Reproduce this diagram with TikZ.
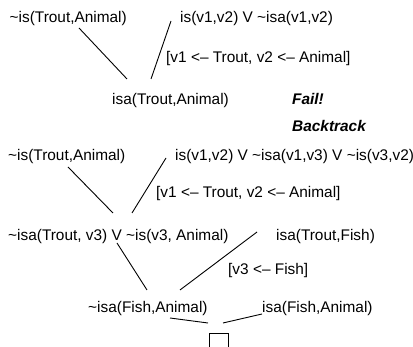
\documentclass[tikz,border=0pt]{standalone}
\usepackage{fontspec}
\setmainfont{Liberation Sans}
\begin{document}
\begin{tikzpicture}[x=1pt,y=1pt,
  lbl/.style={inner sep=0pt,anchor=base west,font=\fontsize{15.4}{18}\selectfont},
  note/.style={lbl,font=\fontsize{15.4}{18}\selectfont\bfseries\itshape},
  edge/.style={line width=0.9pt,black}]
\useasboundingbox (0,0) rectangle (413,-347);
\clip (0,0) rectangle (413,-347);
% row 1
\node[lbl] (a1) at (9.5,-23) {\textasciitilde is(Trout,Animal)};
\node[lbl] (a2) at (180,-23) {is(v1,v2) V \textasciitilde isa(v1,v2)};
\node[lbl] (s1) at (166,-63) {[v1 <– Trout, v2 <– Animal]};
\node[lbl] (r1) at (112,-105) {isa(Trout,Animal)};
\node[note] (f1) at (292,-105) {Fail!};
\node[note] (f2) at (292,-132) {Backtrack};
% second derivation
\node[lbl] (b1) at (8,-161) {\textasciitilde is(Trout,Animal)};
\node[lbl] (b2) at (175,-161) {is(v1,v2) V \textasciitilde isa(v1,v3) V \textasciitilde is(v3,v2)};
\node[lbl] (s2) at (156,-198) {[v1 <– Trout, v2 <– Animal]};
\node[lbl] (c1) at (8,-241) {\textasciitilde isa(Trout, v3) V \textasciitilde is(v3, Animal)};
\node[lbl] (c2) at (276,-241) {isa(Trout,Fish)};
\node[lbl] (s3) at (228,-275) {[v3 <– Fish]};
\node[lbl] (d1) at (88,-313) {\textasciitilde isa(Fish,Animal)};
\node[lbl] (d2) at (262,-313) {isa(Fish,Animal)};
\node[draw,line width=0.9pt,minimum width=19pt,minimum height=24pt,inner sep=0pt,anchor=north] (box) at (218.5,-333) {};
% connector end points
\coordinate (p1) at (79,-28);   \coordinate (q1) at (127,-79);
\coordinate (p2) at (171,-21);  \coordinate (q2) at (151,-79);
\coordinate (p3) at (68,-167);  \coordinate (q3) at (113,-213);
\coordinate (p4) at (166,-158); \coordinate (q4) at (132,-213);
\coordinate (p5) at (117,-243); \coordinate (q5) at (147,-290);
\coordinate (p6) at (257,-232); \coordinate (q6) at (180,-290);
\coordinate (p7) at (170,-318); \coordinate (q7) at (208,-323);
\coordinate (p8) at (262,-314); \coordinate (q8) at (223,-323);
\draw[edge] (p1) -- (q1);
\draw[edge] (p2) -- (q2);
\draw[edge] (p3) -- (q3);
\draw[edge] (p4) -- (q4);
\draw[edge] (p5) -- (q5);
\draw[edge] (p6) -- (q6);
\draw[edge] (p7) -- (q7);
\draw[edge] (p8) -- (q8);
\end{tikzpicture}
\end{document}
